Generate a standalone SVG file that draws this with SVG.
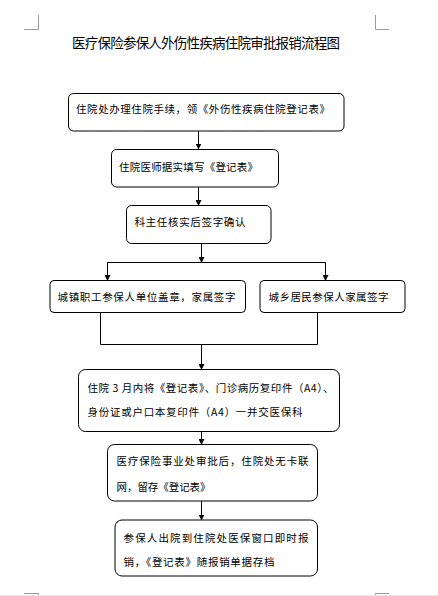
<svg xmlns="http://www.w3.org/2000/svg" width="438" height="596" viewBox="0 0 438 596">
<style>
.box{fill:#fff;stroke:#000;stroke-width:1}
.t{font-family:"Noto Sans CJK SC","Noto Sans",sans-serif;font-size:10.5px;fill:#000}
.title{font-family:"Noto Sans CJK SC","Noto Sans",sans-serif;font-size:13.5px;fill:#000}
.ln{fill:none;stroke:#000;stroke-width:1}
.crop{fill:none;stroke:#999;stroke-width:1}
</style>
<defs>
<marker id="ah" markerWidth="6" markerHeight="6" refX="5.5" refY="3" orient="auto" markerUnits="userSpaceOnUse">
<path d="M0,0 L6,3 L0,6 Z" fill="#000"/>
</marker>
</defs>
<rect width="438" height="596" fill="#fff"/>
<g id="crop-marks">
<path class="crop" d="M38.5,15 V29.5 H24"/>
<path class="crop" d="M375.5,15 V29.5 H389"/>
<path class="crop" d="M24,593.5 H38.5 V596"/>
<path class="crop" d="M389,593.5 H375.5 V596"/>
<line x1="0" y1="595.5" x2="438" y2="595.5" stroke="#e6e6e6"/>
</g>
<g id="title"><text class="title" x="72" y="48" textLength="268" lengthAdjust="spacing">医疗保险参保人外伤性疾病住院审批报销流程图</text></g>
<g id="connectors">
<line class="ln" x1="198.5" y1="131" x2="198.5" y2="149" marker-end="url(#ah)"/>
<line class="ln" x1="198.5" y1="187" x2="198.5" y2="205.5" marker-end="url(#ah)"/>
<line class="ln" x1="201.5" y1="243.5" x2="201.5" y2="262.5" marker-end="url(#ah)"/>
<path class="ln" d="M107.5,280.5 V262.5 H325.5 V280.5"/>
<line class="ln" x1="107.5" y1="262.5" x2="107.5" y2="280.5" marker-end="url(#ah)"/>
<line class="ln" x1="325.5" y1="262.5" x2="325.5" y2="280.5" marker-end="url(#ah)"/>
<path class="ln" d="M100.5,312.5 V344.5 H317.5 V312.5"/>
<line class="ln" x1="201.5" y1="344.5" x2="201.5" y2="369.5" marker-end="url(#ah)"/>
<line class="ln" x1="201.5" y1="431.5" x2="201.5" y2="444.5" marker-end="url(#ah)"/>
<line class="ln" x1="201.5" y1="501" x2="201.5" y2="520" marker-end="url(#ah)"/>
</g>
<g id="n1"><rect class="box" x="68.5" y="93.5" width="275.5" height="37.5" rx="5"/>
<text class="t" x="76" y="113" textLength="254" lengthAdjust="spacing">住院处办理住院手续，领《外伤性疾病住院登记表》</text></g>
<g id="n2"><rect class="box" x="111.5" y="149.5" width="167" height="37.5" rx="5"/>
<text class="t" x="119" y="170.5" textLength="139" lengthAdjust="spacing">住院医师据实填写《登记表》</text></g>
<g id="n3"><rect class="box" x="126.5" y="205.5" width="144.5" height="38" rx="5"/>
<text class="t" x="134.5" y="226" textLength="111" lengthAdjust="spacing">科主任核实后签字确认</text></g>
<g id="n4"><rect class="box" x="50" y="280.5" width="195.5" height="32" rx="4"/>
<text class="t" x="57.5" y="300.5" textLength="178" lengthAdjust="spacing">城镇职工参保人单位盖章，家属签字</text></g>
<g id="n5"><rect class="box" x="260" y="280.5" width="145" height="32" rx="4"/>
<text class="t" x="268.5" y="300.5" textLength="120" lengthAdjust="spacing">城乡居民参保人家属签字</text></g>
<g id="n6"><rect class="box" x="78.5" y="369.5" width="261" height="62" rx="7"/>
<text class="t" x="87.5" y="392" textLength="246" lengthAdjust="spacing">住院 3 月内将《登记表》、门诊病历复印件（A4）、</text>
<text class="t" x="87.5" y="415.5" textLength="215" lengthAdjust="spacing">身份证或户口本复印件（A4）一并交医保科</text></g>
<g id="n7"><rect class="box" x="107.5" y="444.5" width="210" height="56.5" rx="7"/>
<text class="t" x="116.5" y="464.5" textLength="192" lengthAdjust="spacing">医疗保险事业处审批后，住院处无卡联</text>
<text class="t" x="116.5" y="491" textLength="94" lengthAdjust="spacing">网，留存《登记表》</text></g>
<g id="n8"><rect class="box" x="115" y="520" width="202.5" height="56" rx="7"/>
<text class="t" x="123.5" y="541.5" textLength="185" lengthAdjust="spacing">参保人出院到住院处医保窗口即时报</text>
<text class="t" x="123.5" y="565.5" textLength="151" lengthAdjust="spacing">销，《登记表》随报销单据存档</text></g>
</svg>
